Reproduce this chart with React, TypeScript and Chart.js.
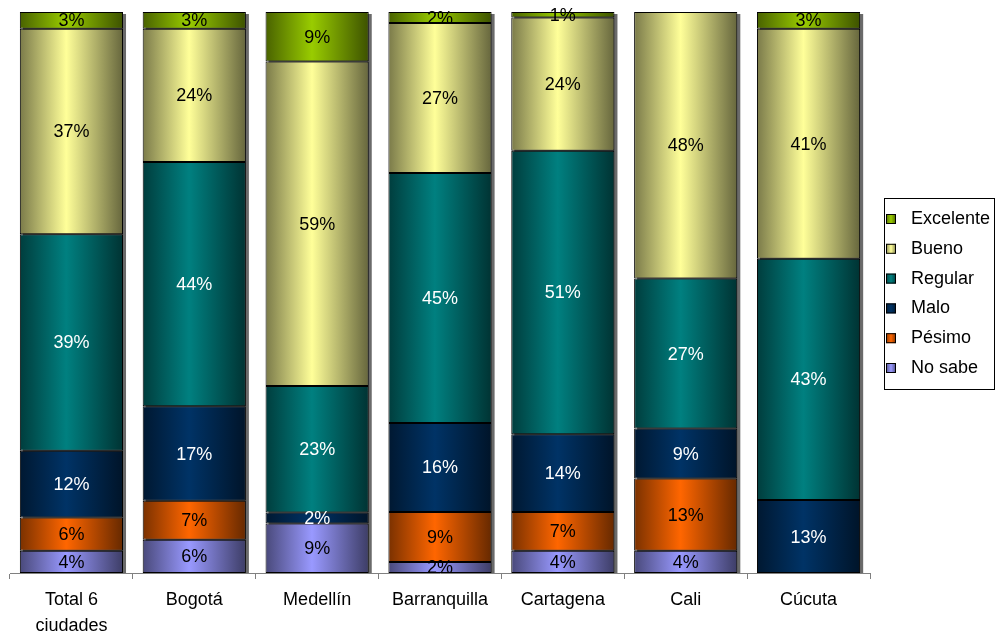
import { useEffect, useRef } from 'react';
import { Chart, registerables } from 'chart.js';

Chart.register(...registerables);

const categories: (string | string[])[] = [['Total 6', 'ciudades'], 'Bogotá', 'Medellín', 'Barranquilla', 'Cartagena', 'Cali', 'Cúcuta'];
const seriesNames = ['No sabe', 'Pésimo', 'Malo', 'Regular', 'Bueno', 'Excelente'];
const noSabe = [4, 6, 9, 2, 4, 4, 0];
const pesimo = [6, 7, 0, 9, 7, 13, 0];
const malo = [12, 17, 2, 16, 14, 9, 13];
const regular = [39, 44, 23, 45, 51, 27, 43];
const bueno = [37, 24, 59, 27, 24, 48, 41];
const excelente = [3, 3, 9, 2, 1, 0, 3];
const seriesValues = [noSabe, pesimo, malo, regular, bueno, excelente];
const seriesColors = ['#9999FF', '#FF6600', '#003366', '#008080', '#FFFF99', '#99CC00'];
const labelColors = ['#000000', '#000000', '#FFFFFF', '#FFFFFF', '#000000', '#000000'];

const FONT = '"Liberation Sans", Arial, sans-serif';
const BAR_PCT = 0.84;

function shade(hex: string, f: number) {
  const n = parseInt(hex.slice(1), 16);
  const r = Math.round(((n >> 16) & 255) * f);
  const g = Math.round(((n >> 8) & 255) * f);
  const b = Math.round((n & 255) * f);
  return `rgb(${r},${g},${b})`;
}

const totals = categories.map((_, i) => seriesValues.reduce((s, arr) => s + arr[i], 0));

const shadowPlugin = {
  id: 'barShadow',
  beforeDatasetsDraw(chart: any) {
    const ctx = chart.ctx;
    const y = chart.scales.y;
    const top = y.getPixelForValue(100);
    const bottom = y.getPixelForValue(0);
    const meta = chart.getDatasetMeta(0);
    ctx.save();
    ctx.fillStyle = '#6a6a6a';
    meta.data.forEach((el: any) => {
      const left = el.x - el.width / 2;
      ctx.fillRect(left + 3, top + 2, el.width, bottom - top - 2);
    });
    ctx.restore();
  },
};

const labelPlugin = {
  id: 'segLabels',
  afterDatasetsDraw(chart: any) {
    const ctx = chart.ctx;
    ctx.save();
    ctx.font = `18px ${FONT}`;
    ctx.textAlign = 'center';
    ctx.textBaseline = 'middle';
    seriesValues.forEach((arr, di) => {
      const meta = chart.getDatasetMeta(di);
      meta.data.forEach((el: any, i: number) => {
        const v = arr[i];
        if (!v) return;
        ctx.fillStyle = labelColors[di];
        ctx.fillText(`${v}%`, el.x, (el.y + el.base) / 2 + 1);
      });
    });
    ctx.restore();
  },
};

const legendPlugin = {
  id: 'customLegend',
  afterDraw(chart: any) {
    const ctx = chart.ctx;
    ctx.save();
    ctx.strokeStyle = '#000';
    ctx.lineWidth = 1;
    ctx.strokeRect(884.5, 198.5, 110, 191);
    ctx.font = `18px ${FONT}`;
    ctx.textAlign = 'left';
    ctx.textBaseline = 'middle';
    const order = [5, 4, 3, 2, 1, 0];
    order.forEach((si, k) => {
      const cy = 218 + k * 29.8;
      const g = ctx.createLinearGradient(886, 0, 896, 0);
      g.addColorStop(0, shade(seriesColors[si], 0.55));
      g.addColorStop(0.5, seriesColors[si]);
      g.addColorStop(1, shade(seriesColors[si], 0.5));
      ctx.fillStyle = g;
      ctx.fillRect(886, cy - 4, 10, 10);
      ctx.strokeStyle = '#000';
      ctx.strokeRect(886.5, cy - 3.5, 9, 9);
      ctx.fillStyle = '#000';
      ctx.fillText(seriesNames[si], 911, cy + 1);
    });
    ctx.restore();
  },
};

export default function App() {
  const ref = useRef<HTMLCanvasElement>(null);
  useEffect(() => {
    if (!ref.current) return;
    const datasets = seriesValues.map((arr, di) => ({
      label: seriesNames[di],
      data: arr.map((v, i) => (v / totals[i]) * 100),
      backgroundColor: (c: any) => {
        const base = seriesColors[di];
        const chart = c.chart;
        const xs = chart.scales && chart.scales.x;
        if (!xs || c.type !== 'data' || !xs.width) return base;
        const center = xs.getPixelForValue(c.dataIndex);
        const w = (xs.width / categories.length) * BAR_PCT;
        const g = chart.ctx.createLinearGradient(center - w / 2, 0, center + w / 2, 0);
        g.addColorStop(0, shade(base, 0.48));
        g.addColorStop(0.45, base);
        g.addColorStop(1, shade(base, 0.4));
        return g;
      },
      borderColor: '#000000',
      borderWidth: 1,
      borderSkipped: false,
      barPercentage: BAR_PCT,
      categoryPercentage: 1,
    }));
    const chart = new Chart(ref.current, {
      type: 'bar',
      data: { labels: categories, datasets },
      options: {
        animation: false,
        responsive: false,
        devicePixelRatio: 1,
        layout: { padding: { left: 10, right: 127, top: 12, bottom: 0 } },
        plugins: { legend: { display: false }, tooltip: { enabled: false } },
        scales: {
          x: {
            stacked: true,
            grid: { offset: true, drawOnChartArea: false, drawTicks: true, tickLength: 6, color: '#808080' },
            border: { color: '#808080', width: 1 },
            ticks: {
              color: '#000000',
              font: { family: FONT, size: 18, lineHeight: 1.44 },
              padding: 8,
              maxRotation: 0,
              autoSkip: false,
            },
            afterFit: (s: any) => { s.height = 60; },
          },
          y: { stacked: true, display: false, min: 0, max: 100 },
        },
      },
      plugins: [shadowPlugin, labelPlugin, legendPlugin],
    });
    return () => chart.destroy();
  }, []);
  return (
    <div style={{ position: 'absolute', left: 0, top: 0, width: 997, height: 633, background: '#fff' }}>
      <canvas ref={ref} width={997} height={633} />
    </div>
  );
}
